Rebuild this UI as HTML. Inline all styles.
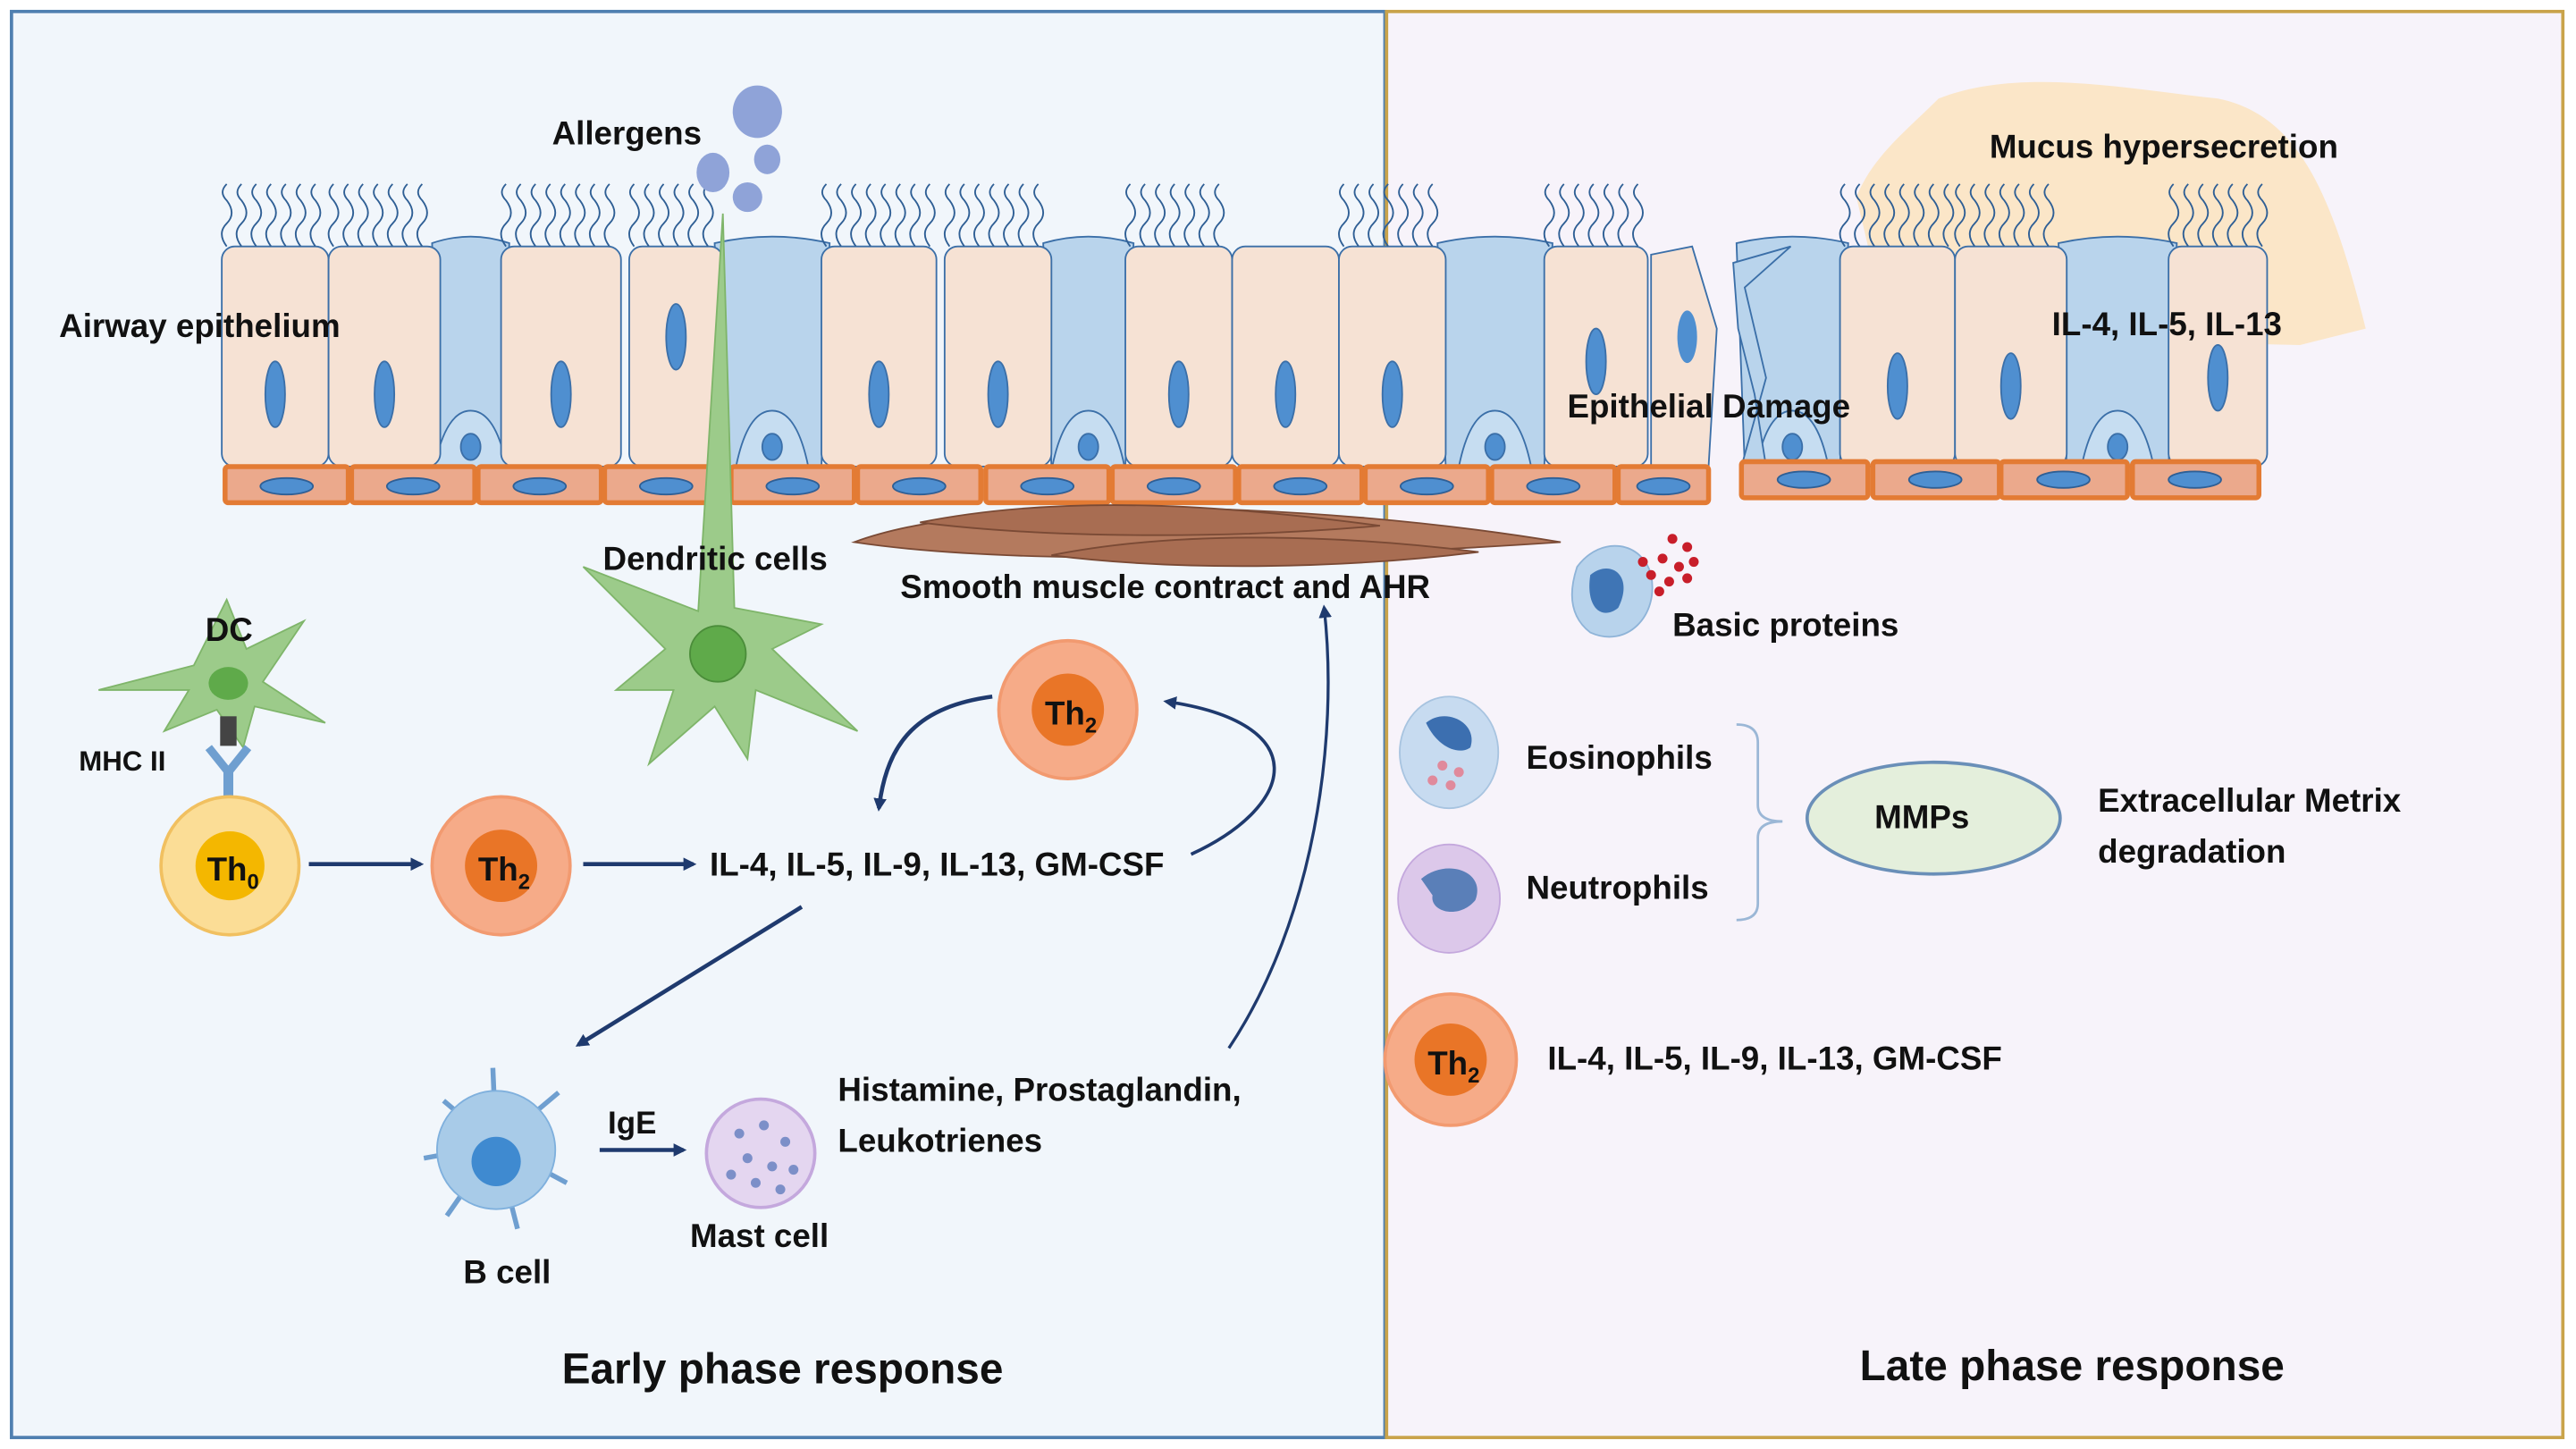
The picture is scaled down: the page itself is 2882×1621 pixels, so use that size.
<!DOCTYPE html>
<html><head><meta charset="utf-8"><style>
html,body{margin:0;padding:0;background:#fff;}
svg{display:block;}
text{font-family:"Liberation Sans",sans-serif;font-weight:bold;fill:#111;}
</style></head><body>
<svg id="s" width="2882" height="1621" viewBox="0 0 1568 882" preserveAspectRatio="none" xmlns="http://www.w3.org/2000/svg">
<defs>
<marker id="ar" markerWidth="8" markerHeight="8" refX="6" refY="4" orient="auto" markerUnits="userSpaceOnUse"><path d="M0,0 L8,4 L0,8 Z" fill="#1f3a6e"/></marker>
</defs>
<rect x="0" y="0" width="1568" height="882" fill="#fff"/>
<rect x="7" y="7" width="836" height="868" fill="#f1f6fb" stroke="#4f7fb0" stroke-width="2"/>
<rect x="844" y="7" width="716" height="868" fill="#f7f3fa" stroke="#c9a34a" stroke-width="2"/>
<path d="M1180,60 C1230,40 1300,55 1350,60 C1400,70 1420,120 1440,200 L1400,210 L1150,205 L1130,120 C1140,95 1160,80 1180,60Z" fill="#fbe6c8"/>
<g id="cells"></g>
<!-- allergens -->
<ellipse cx="461" cy="68" rx="15" ry="16" fill="#8fa3d8"/>
<ellipse cx="434" cy="105" rx="10" ry="12" fill="#8fa3d8"/>
<ellipse cx="467" cy="97" rx="8" ry="9" fill="#8fa3d8"/>
<ellipse cx="455" cy="120" rx="9" ry="9" fill="#8fa3d8"/>
<!-- smooth muscle -->
<path d="M520,330 C600,300 800,305 950,330 C800,340 620,345 520,330Z" fill="#b47a5e" stroke="#7a4a35"/>
<path d="M560,318 C650,300 750,308 840,320 C750,328 640,328 560,318Z" fill="#a86d52" stroke="#7a4a35"/>
<path d="M640,338 C720,322 820,326 900,336 C820,346 720,348 640,338Z" fill="#a86d52" stroke="#7a4a35"/>
<!-- dendritic cell -->
<path d="M440,130 L447,370 L500,380 L470,395 L522,445 L460,420 L455,462 L435,430 L395,465 L410,420 L375,420 L405,395 L355,345 L425,372 Z" fill="#9ccb8a" stroke="#7fb56a"/>
<circle cx="437" cy="398" r="17" fill="#5faa4a" stroke="#4b8d3a"/>
<!-- DC small -->
<path d="M138,365 L150,395 L185,378 L160,415 L198,440 L155,430 L148,455 L132,432 L100,445 L115,420 L60,420 L118,405 Z" fill="#9ccb8a" stroke="#7fb56a"/>
<ellipse cx="139" cy="416" rx="12" ry="10" fill="#5faa4a"/>
<rect x="134" y="436" width="10" height="18" fill="#444"/>
<path d="M127,455 L139,470 L151,455" fill="none" stroke="#6f9fd0" stroke-width="5"/>
<rect x="136" y="466" width="6" height="24" fill="#6f9fd0"/>
<!-- Th0 -->
<circle cx="140" cy="527" r="42" fill="#fbdd96" stroke="#f1c060" stroke-width="2"/>
<circle cx="140" cy="527" r="21" fill="#f4b700"/>
<text x="126" y="536" font-size="20">Th<tspan font-size="13" dy="5">0</tspan></text>
<!-- Th2 cells -->
<circle cx="305" cy="527" r="42" fill="#f6ab88" stroke="#f29a70" stroke-width="2"/>
<circle cx="305" cy="527" r="22" fill="#e97527"/>
<text x="291" y="536" font-size="20">Th<tspan font-size="13" dy="5">2</tspan></text>
<circle cx="650" cy="432" r="42" fill="#f6ab88" stroke="#f29a70" stroke-width="2"/>
<circle cx="650" cy="432" r="22" fill="#e97527"/>
<text x="636" y="441" font-size="20">Th<tspan font-size="13" dy="5">2</tspan></text>
<circle cx="883" cy="645" r="40" fill="#f6ab88" stroke="#f29a70" stroke-width="2"/>
<circle cx="883" cy="645" r="22" fill="#e97527"/>
<text x="869" y="654" font-size="20">Th<tspan font-size="13" dy="5">2</tspan></text>
<!-- B cell -->
<g stroke="#6f9fd0" stroke-width="3" fill="none">
<path d="M302,697 L270,670 M302,697 L258,705 M302,697 L272,740 M302,697 L315,748 M302,697 L345,720 M302,697 L340,665 M302,697 L300,650"/>
</g>
<circle cx="302" cy="700" r="36" fill="#a8cbe8" stroke="#7fb0dd"/>
<circle cx="302" cy="707" r="15" fill="#3f8ad0"/>
<!-- Mast cell -->
<circle cx="463" cy="702" r="33" fill="#e4d6f0" stroke="#c4a8dd" stroke-width="2"/>
<g fill="#7c8fc8"><circle cx="450" cy="690" r="3"/><circle cx="465" cy="685" r="3"/><circle cx="478" cy="695" r="3"/><circle cx="455" cy="705" r="3"/><circle cx="470" cy="710" r="3"/><circle cx="483" cy="712" r="3"/><circle cx="445" cy="715" r="3"/><circle cx="460" cy="720" r="3"/><circle cx="475" cy="724" r="3"/></g>
<!-- arrows -->
<g stroke="#1f3a6e" stroke-width="2.5" fill="none" marker-end="url(#ar)">
<line x1="188" y1="526" x2="256" y2="526"/>
<line x1="355" y1="526" x2="422" y2="526"/>
<line x1="488" y1="552" x2="352" y2="636"/>
<line x1="365" y1="700" x2="416" y2="700"/>
<path d="M604,424 C560,430 540,450 535,492"/>
<path d="M725,520 C790,490 800,440 710,427" stroke-width="2"/>
<path d="M748,638 C800,560 815,450 806,370" stroke-width="1.8"/>
</g>
<!-- brackets -->
<path d="M1057,441 Q1070,441 1070,452 L1070,490 Q1070,500 1085,500 Q1070,500 1070,510 L1070,550 Q1070,560 1057,560" fill="none" stroke="#9bb7d6" stroke-width="1.5"/>
<!-- eos/neut -->
<ellipse cx="882" cy="458" rx="30" ry="34" fill="#c7dbf0" stroke="#a8c4e0"/>
<path d="M868,440 C880,430 900,440 895,455 C888,460 875,455 868,440Z" fill="#3c6fb0"/>
<g fill="#e08a9c"><circle cx="878" cy="466" r="3"/><circle cx="888" cy="470" r="3"/><circle cx="883" cy="478" r="3"/><circle cx="872" cy="475" r="3"/></g>
<ellipse cx="882" cy="547" rx="31" ry="33" fill="#dcc8ea" stroke="#c4a8dd"/>
<path d="M865,535 C880,522 905,530 898,548 C888,560 870,555 872,545Z" fill="#5a7fb8"/>
<!-- basic proteins cell -->
<path d="M960,345 C975,325 1000,330 1005,350 C1010,375 990,395 968,385 C955,375 955,360 960,345Z" fill="#b8d3ec" stroke="#8fb4d8"/>
<path d="M968,350 C980,340 995,350 985,370 C975,378 965,370 968,350Z" fill="#3f75b5"/>
<g fill="#c81e2a"><circle cx="1018" cy="328" r="3"/><circle cx="1027" cy="333" r="3"/><circle cx="1012" cy="340" r="3"/><circle cx="1022" cy="345" r="3"/><circle cx="1031" cy="342" r="3"/><circle cx="1005" cy="350" r="3"/><circle cx="1016" cy="354" r="3"/><circle cx="1027" cy="352" r="3"/><circle cx="1010" cy="360" r="3"/><circle cx="1000" cy="342" r="3"/></g>
<!-- MMPs -->
<ellipse cx="1177" cy="498" rx="77" ry="34" fill="#e4efdc" stroke="#6a8fb8" stroke-width="2"/>
<!-- texts -->
<text x="336" y="88" font-size="20">Allergens</text>
<text x="36" y="205" font-size="20">Airway epithelium</text>
<text x="1211" y="96" font-size="20">Mucus hypersecretion</text>
<text x="1249" y="204" font-size="20">IL-4, IL-5, IL-13</text>
<text x="954" y="254" font-size="20">Epithelial Damage</text>
<text x="367" y="347" font-size="20">Dendritic cells</text>
<text x="548" y="364" font-size="20">Smooth muscle contract and AHR</text>
<text x="1018" y="387" font-size="20">Basic proteins</text>
<text x="125" y="390" font-size="20">DC</text>
<text x="48" y="469" font-size="17">MHC II</text>
<text x="432" y="533" font-size="20">IL-4, IL-5, IL-9, IL-13, GM-CSF</text>
<text x="929" y="468" font-size="20">Eosinophils</text>
<text x="929" y="547" font-size="20">Neutrophils</text>
<text x="1141" y="504" font-size="20">MMPs</text>
<text x="1277" y="494" font-size="20">Extracellular Metrix</text>
<text x="1277" y="525" font-size="20">degradation</text>
<text x="942" y="651" font-size="20">IL-4, IL-5, IL-9, IL-13, GM-CSF</text>
<text x="510" y="670" font-size="20">Histamine, Prostaglandin,</text>
<text x="510" y="701" font-size="20">Leukotrienes</text>
<text x="370" y="690" font-size="19">IgE</text>
<text x="420" y="759" font-size="20">Mast cell</text>
<text x="282" y="781" font-size="20">B cell</text>
<text x="342" y="842" font-size="26">Early phase response</text>
<text x="1132" y="840" font-size="26">Late phase response</text>
</svg>
<script>
(function(){
var g=document.getElementById('cells'),ns='http://www.w3.org/2000/svg',h='';
var peach=[[135,200],[200,268],[305,378],[383,440],[500,570],[575,640],[685,750],[750,815],[815,880],[940,1003],[1120,1190],[1190,1258],[1320,1380]];
var blue=[[268,305],[440,500],[640,685],[880,940],[1062,1120],[1258,1320]];
var nuc=[240,240,240,205,240,240,240,240,240,220,235,235,230];
var cil=[1,1,1,1,1,1,1,0,1,1,1,1,1];
blue.forEach(function(b){
 h+='<path d="M'+(b[0]-5)+',148 Q'+((b[0]+b[1])/2)+',140 '+(b[1]+5)+',148 L'+b[1]+',284 L'+b[0]+',284 Z" fill="#b9d4ec" stroke="#3b6fa8" stroke-width="1"/>';
 var c=(b[0]+b[1])/2;
 h+='<path d="M'+(c-22)+',284 Q'+(c-15)+',250 '+c+',250 Q'+(c+15)+',250 '+(c+22)+',284" fill="#c6ddf1" stroke="#3b6fa8"/>';
 h+='<ellipse cx="'+c+'" cy="272" rx="6" ry="8" fill="#4f8fd0" stroke="#3b6fa8"/>';
});
peach.forEach(function(p,i){
 h+='<rect x="'+p[0]+'" y="150" width="'+(p[1]-p[0])+'" height="134" rx="8" fill="#f6e2d4" stroke="#3b6fa8" stroke-width="1"/>';
 var c=(p[0]+p[1])/2;
 h+='<ellipse cx="'+c+'" cy="'+nuc[i]+'" rx="6" ry="20" fill="#4f8fd0" stroke="#3b6fa8"/>';
 if(cil[i]){for(var x=p[0]+3;x<p[1]-2;x+=9){h+='<path d="M'+x+',150 q-6,-8 0,-14 q6,-6 0,-14 q-5,-5 0,-10" fill="none" stroke="#2f5f95" stroke-width="1"/>';}}
});
h+='<path d="M1005,155 L1030,150 L1045,200 L1040,284 L1005,284 Z" fill="#f6e2d4" stroke="#3b6fa8"/>';
h+='<ellipse cx="1027" cy="205" rx="6" ry="16" fill="#4f8fd0"/>';
h+='<path d="M1055,160 L1090,150 L1062,175 L1075,230 L1060,284 L1075,284 L1068,240 L1058,200Z" fill="#b9d4ec" stroke="#3b6fa8"/>';
var bx=[137,214,291,368,445,522,600,677,754,831,908,985];
bx.forEach(function(x,i){var w=(i==11)?55:75;
 h+='<rect x="'+x+'" y="284" width="'+w+'" height="22" rx="2" fill="#eba98c" stroke="#e37b34" stroke-width="3"/>';
 h+='<ellipse cx="'+(x+w/2)+'" cy="296" rx="16" ry="5" fill="#4f8fd0" stroke="#2f5f95"/>';});
[1060,1140,1218,1298].forEach(function(x){
 h+='<rect x="'+x+'" y="281" width="77" height="22" rx="2" fill="#eba98c" stroke="#e37b34" stroke-width="3"/>';
 h+='<ellipse cx="'+(x+38)+'" cy="292" rx="16" ry="5" fill="#4f8fd0" stroke="#2f5f95"/>';});
g.innerHTML=h;
})();
</script>
</body></html>
